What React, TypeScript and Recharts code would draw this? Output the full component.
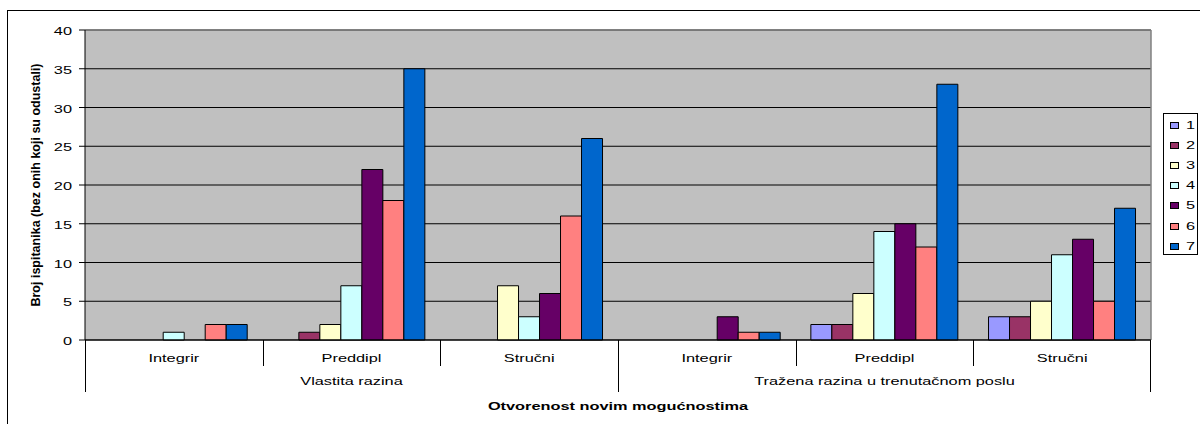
import React from 'react';
import { BarChart, Bar, XAxis, YAxis, CartesianGrid } from 'recharts';

const categories = ['Integrir', 'Preddipl', 'Stručni', 'Integrir', 'Preddipl', 'Stručni'];
const groups = [
  'Vlastita razina',
  'Vlastita razina',
  'Vlastita razina',
  'Tražena razina u trenutačnom poslu',
  'Tražena razina u trenutačnom poslu',
  'Tražena razina u trenutačnom poslu',
];
const seriesNames = ['1', '2', '3', '4', '5', '6', '7'];
const s1 = [0, 0, 0, 0, 2, 3];
const s2 = [0, 1, 0, 0, 2, 3];
const s3 = [0, 2, 7, 0, 6, 5];
const s4 = [1, 7, 3, 0, 14, 11];
const s5 = [0, 22, 6, 3, 15, 13];
const s6 = [2, 18, 16, 1, 12, 5];
const s7 = [2, 35, 26, 1, 33, 17];
const seriesValues = [s1, s2, s3, s4, s5, s6, s7];
const seriesColors = ['#9999FF', '#993366', '#FFFFCC', '#CCFFFF', '#660066', '#FF8080', '#0066CC'];
const yTicks = [0, 5, 10, 15, 20, 25, 30, 35, 40];
const yTitle = 'Broj ispitanika (bez onih koji su odustali)';
const xTitle = 'Otvorenost novim mogućnostima';

const data = categories.map((c, i) => {
  const row: any = { key: `${groups[i]}|${c}|${i}` };
  seriesValues.forEach((vals, si) => {
    row[`s${si}`] = vals[i];
  });
  return row;
});

const FONT = "'Liberation Sans', Arial, sans-serif";
const FS = 11.5;
const SX = 1.42;

const SText = ({ x, y, anchor = 'middle', bold = false, children }: any) => (
  <text
    transform={`translate(${x},${y}) scale(${SX},1)`}
    textAnchor={anchor}
    dominantBaseline="central"
    fontFamily={FONT}
    fontSize={FS}
    fontWeight={bold ? 'bold' : 'normal'}
    fill="#000"
  >
    {children}
  </text>
);

const crisp = (v: number) => Math.round(v) + 0.5;

const XTick = (props: any) => {
  const { x, y, payload } = props;
  const i: number = payload?.index ?? props.index ?? 0;
  const half: number = payload?.offset ?? 88.8;
  const n = categories.length;
  const isGroupStart = i === 0 || groups[i] !== groups[i - 1];
  const count = groups.filter((g) => g === groups[i]).length;
  const lx = crisp(x - half);
  return (
    <g>
      <line x1={lx} x2={lx} y1={y} y2={y + (isGroupStart ? 52 : 26)} stroke="#000" strokeWidth={1} />
      {i === n - 1 && (
        <line x1={crisp(x + half) - 1} x2={crisp(x + half) - 1} y1={y} y2={y + 52} stroke="#000" strokeWidth={1} />
      )}
      <SText x={x} y={y + 18}>{categories[i]}</SText>
      {isGroupStart && <SText x={x - half + count * half} y={y + 41}>{groups[i]}</SText>}
    </g>
  );
};

const YTick = (props: any) => {
  const { x, y, payload } = props;
  return (
    <SText x={x} y={y + 1} anchor="end">
      {payload.value}
    </SText>
  );
};

const XTitle = (props: any) => {
  const vb = props.viewBox || { x: 85, y: 340, width: 1066, height: 84 };
  return (
    <SText x={vb.x + vb.width / 2} y={vb.y + 66} bold>
      {xTitle}
    </SText>
  );
};

const YTitle = (props: any) => {
  const vb = props.viewBox || { x: 35, y: 30, width: 50, height: 310 };
  const cx = vb.x + 1;
  const cy = vb.y + vb.height / 2;
  return (
    <text
      transform={`translate(${cx},${cy}) rotate(-90)`}
      textAnchor="middle"
      dominantBaseline="central"
      fontFamily={FONT}
      fontSize={12.5}
      fontWeight="bold"
      fill="#000"
    >
      {yTitle}
    </text>
  );
};

const LegendBox = () => (
  <svg
    width={36}
    height={144}
    style={{ position: 'absolute', left: 1162, top: 112, overflow: 'visible' }}
  >
    <rect x={1.5} y={1.5} width={34} height={141} fill="#fff" stroke="#000" strokeWidth={1} />
    {seriesNames.map((name, i) => {
      const cy = 12.5 + i * 20.2;
      return (
        <g key={name}>
          <rect x={8.5} y={Math.round(cy - 3) + 0.5} width={8} height={6} fill={seriesColors[i]} stroke="#000" strokeWidth={1} />
          <SText x={24} y={cy} anchor="start">{name}</SText>
        </g>
      );
    })}
  </svg>
);

export default function App() {
  return (
    <div
      style={{
        position: 'absolute',
        left: 0,
        top: 0,
        width: 1200,
        height: 424,
        overflow: 'hidden',
        background: '#fff',
      }}
    >
      <div
        style={{
          position: 'absolute',
          left: 7,
          top: 10,
          width: 1200,
          height: 420,
          borderLeft: '1px solid #000',
          borderTop: '1px solid #000',
        }}
      />
      <div style={{ position: 'absolute', left: 0, top: 0 }}>
        <BarChart
          width={1200}
          height={424}
          data={data}
          margin={{ top: 30, right: 49, bottom: 0, left: 35 }}
          barGap={0}
          barCategoryGap="8.55%"
        >
          <CartesianGrid vertical={false} stroke="#000" fill="#C0C0C0" fillOpacity={1} />
          <CartesianGrid
            fill="none"
            stroke="#808080"
            strokeWidth={1.5}
            horizontalCoordinatesGenerator={(p: any) => (p && p.offset ? [p.offset.top] : [])}
            verticalCoordinatesGenerator={(p: any) => (p && p.offset ? [p.offset.left + p.offset.width] : [])}
          />
          <XAxis
            dataKey="key"
            height={84}
            interval={0}
            tickLine={false}
            tickSize={0}
            tickMargin={0}
            axisLine={{ stroke: '#000' }}
            tick={<XTick />}
            label={<XTitle />}
          />
          <YAxis
            width={50}
            domain={[0, 40]}
            ticks={yTicks}
            interval={0}
            tickSize={6}
            tickMargin={7}
            tickLine={{ stroke: '#000' }}
            axisLine={{ stroke: '#000' }}
            tick={<YTick />}
            label={<YTitle />}
          />
          {seriesNames.map((name, si) => (
            <Bar
              key={name}
              dataKey={`s${si}`}
              name={name}
              fill={seriesColors[si]}
              stroke="#000"
              strokeWidth={1}
              isAnimationActive={false}
            />
          ))}
        </BarChart>
      </div>
      <LegendBox />
    </div>
  );
}
